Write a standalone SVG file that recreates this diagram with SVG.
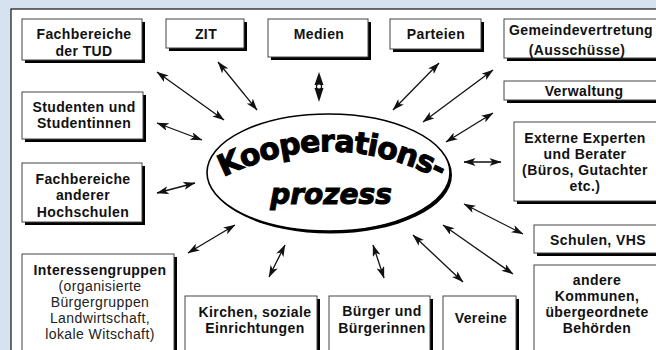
<svg xmlns="http://www.w3.org/2000/svg" width="656" height="350" viewBox="0 0 656 350">
<style>
.bg{fill:#d6e2ef}
.panel{fill:#fff;stroke:#111;stroke-width:1.2}
.sh{fill:#000}
.bx{fill:#fff;stroke:#444;stroke-width:1}
.t{font-family:"Liberation Sans",Arial,sans-serif;font-weight:bold;font-size:14px;letter-spacing:0.4px;text-anchor:middle;fill:#111}
.tn{font-family:"Liberation Sans",Arial,sans-serif;font-weight:normal;font-size:14px;letter-spacing:0.4px;text-anchor:middle;fill:#222}
.c line{stroke:#111;stroke-width:1.3;marker-start:url(#ah);marker-end:url(#ah)}
.big{font-family:"DejaVu Sans",Verdana,sans-serif;font-weight:bold;fill:#000;stroke:#000;stroke-width:1}
</style>
<defs>
<marker id="ah" viewBox="0 0 12 8" refX="11.5" refY="4" markerWidth="12" markerHeight="8" markerUnits="userSpaceOnUse" orient="auto-start-reverse">
<path d="M0,0 L12,4 L0,8 L3,4 Z" fill="#111"/>
</marker>
<path id="arcK" d="M 216,181 Q 330,121 447,183"/>
</defs>
<rect class="bg" x="0" y="0" width="656" height="350"/>
<rect class="panel" x="11" y="9" width="660" height="360"/>

<g id="connectors" class="c">
<line x1="157" y1="72" x2="224" y2="120"/>
<line x1="218" y1="62" x2="257" y2="110"/>
<line x1="157" y1="123" x2="202" y2="140"/>
<line x1="439" y1="63" x2="393" y2="110"/>
<line x1="493" y1="70" x2="423" y2="122"/>
<line x1="493" y1="113" x2="446" y2="142"/>
<line x1="464" y1="162" x2="501" y2="162"/>
<line x1="157" y1="193" x2="195" y2="183"/>
<line x1="188" y1="253" x2="235" y2="225"/>
<line x1="269" y1="277" x2="285" y2="245"/>
<line x1="373" y1="245" x2="384" y2="278"/>
<line x1="413" y1="235" x2="463" y2="282"/>
<line x1="443" y1="225" x2="513" y2="274"/>
<line x1="464" y1="204" x2="523" y2="234"/>
<g id="medien-arrow">
<polygon points="319,72 323.5,85 314.5,85" fill="#111"/>
<polygon points="314.5,88 323.5,88 319,102" fill="#111"/>
<circle cx="319" cy="86.5" r="2.6" fill="#fff" stroke="#111" stroke-width="1.2"/>
</g>
</g>

<g id="center">
<ellipse cx="330.5" cy="175" rx="121.5" ry="58.5" fill="#000"/>
<ellipse cx="328.5" cy="172.5" rx="121.5" ry="58.5" fill="#fff" stroke="#000" stroke-width="1.6"/>
<text class="big" font-size="30" letter-spacing="-1"><textPath href="#arcK" startOffset="50%" text-anchor="middle">Kooperations-</textPath></text>
<text class="big" font-size="28" x="331" y="204" text-anchor="middle" font-style="italic">prozess</text>
</g>

<g id="n-fb-tud">
<rect class="sh" x="25" y="22" width="120" height="41"/>
<rect class="bx" x="22" y="19" width="120" height="41"/>
<text class="t" x="84" y="39">Fachbereiche</text>
<text class="t" x="84" y="56">der TUD</text>
</g>
<g id="n-zit">
<rect class="sh" x="169" y="22" width="78" height="29"/>
<rect class="bx" x="166" y="19" width="78" height="29"/>
<text class="t" x="206" y="39">ZIT</text>
</g>
<g id="n-medien">
<rect class="sh" x="271" y="22" width="100" height="38"/>
<rect class="bx" x="268" y="19" width="100" height="38"/>
<text class="t" x="319" y="39">Medien</text>
</g>
<g id="n-parteien">
<rect class="sh" x="393" y="22" width="91" height="30"/>
<rect class="bx" x="390" y="19" width="91" height="30"/>
<text class="t" x="436" y="39">Parteien</text>
</g>
<g id="n-gemeinde">
<rect class="sh" x="507" y="22" width="160" height="39"/>
<rect class="bx" x="504" y="19" width="160" height="39"/>
<text class="t" x="581" y="35">Gemeindevertretung</text>
<text class="t" x="577" y="55">(Ausschüsse)</text>
</g>
<g id="n-verwaltung">
<rect class="sh" x="507" y="84" width="160" height="19"/>
<rect class="bx" x="504" y="81" width="160" height="19"/>
<text class="t" x="584" y="96">Verwaltung</text>
</g>
<g id="n-externe">
<rect class="sh" x="517" y="125" width="150" height="79"/>
<rect class="bx" x="514" y="122" width="150" height="79"/>
<text class="t" x="585" y="143">Externe Experten</text>
<text class="t" x="585" y="159">und Berater</text>
<text class="t" x="585" y="175">(Büros, Gutachter</text>
<text class="t" x="585" y="191">etc.)</text>
</g>
<g id="n-schulen">
<rect class="sh" x="537" y="228" width="130" height="28"/>
<rect class="bx" x="534" y="225" width="130" height="28"/>
<text class="t" x="598" y="245">Schulen, VHS</text>
</g>
<g id="n-kommunen">
<rect class="sh" x="537" y="268" width="130" height="100"/>
<rect class="bx" x="534" y="265" width="130" height="100"/>
<text class="t" x="597" y="285">andere</text>
<text class="t" x="597" y="301">Kommunen,</text>
<text class="t" x="597" y="317">übergeordnete</text>
<text class="t" x="597" y="333">Behörden</text>
</g>
<g id="n-vereine">
<rect class="sh" x="446" y="299" width="73" height="60"/>
<rect class="bx" x="443" y="296" width="73" height="60"/>
<text class="t" x="481" y="323">Vereine</text>
</g>
<g id="n-buerger">
<rect class="sh" x="332" y="299" width="101" height="60"/>
<rect class="bx" x="329" y="296" width="101" height="60"/>
<text class="t" x="382" y="316">Bürger und</text>
<text class="t" x="382" y="333">Bürgerinnen</text>
</g>
<g id="n-kirchen">
<rect class="sh" x="188" y="299" width="132" height="60"/>
<rect class="bx" x="185" y="296" width="132" height="60"/>
<text class="t" x="255" y="317">Kirchen, soziale</text>
<text class="t" x="255" y="333">Einrichtungen</text>
</g>
<g id="n-interessen">
<rect class="sh" x="25" y="257" width="152" height="100"/>
<rect class="bx" x="22" y="254" width="152" height="100"/>
<text class="t" x="100" y="275">Interessengruppen</text>
<text class="tn" x="100" y="291">(organisierte</text>
<text class="tn" x="100" y="307">Bürgergruppen</text>
<text class="tn" x="100" y="323">Landwirtschaft,</text>
<text class="tn" x="100" y="339">lokale Witschaft)</text>
</g>
<g id="n-fb-andere">
<rect class="sh" x="25" y="166" width="120" height="59"/>
<rect class="bx" x="22" y="163" width="120" height="59"/>
<text class="t" x="83" y="184">Fachbereiche</text>
<text class="t" x="83" y="200">anderer</text>
<text class="t" x="83" y="217">Hochschulen</text>
</g>
<g id="n-studenten">
<rect class="sh" x="25" y="95" width="121" height="47"/>
<rect class="bx" x="22" y="92" width="121" height="47"/>
<text class="t" x="84" y="112">Studenten und</text>
<text class="t" x="84" y="128">Studentinnen</text>
</g>
</svg>
